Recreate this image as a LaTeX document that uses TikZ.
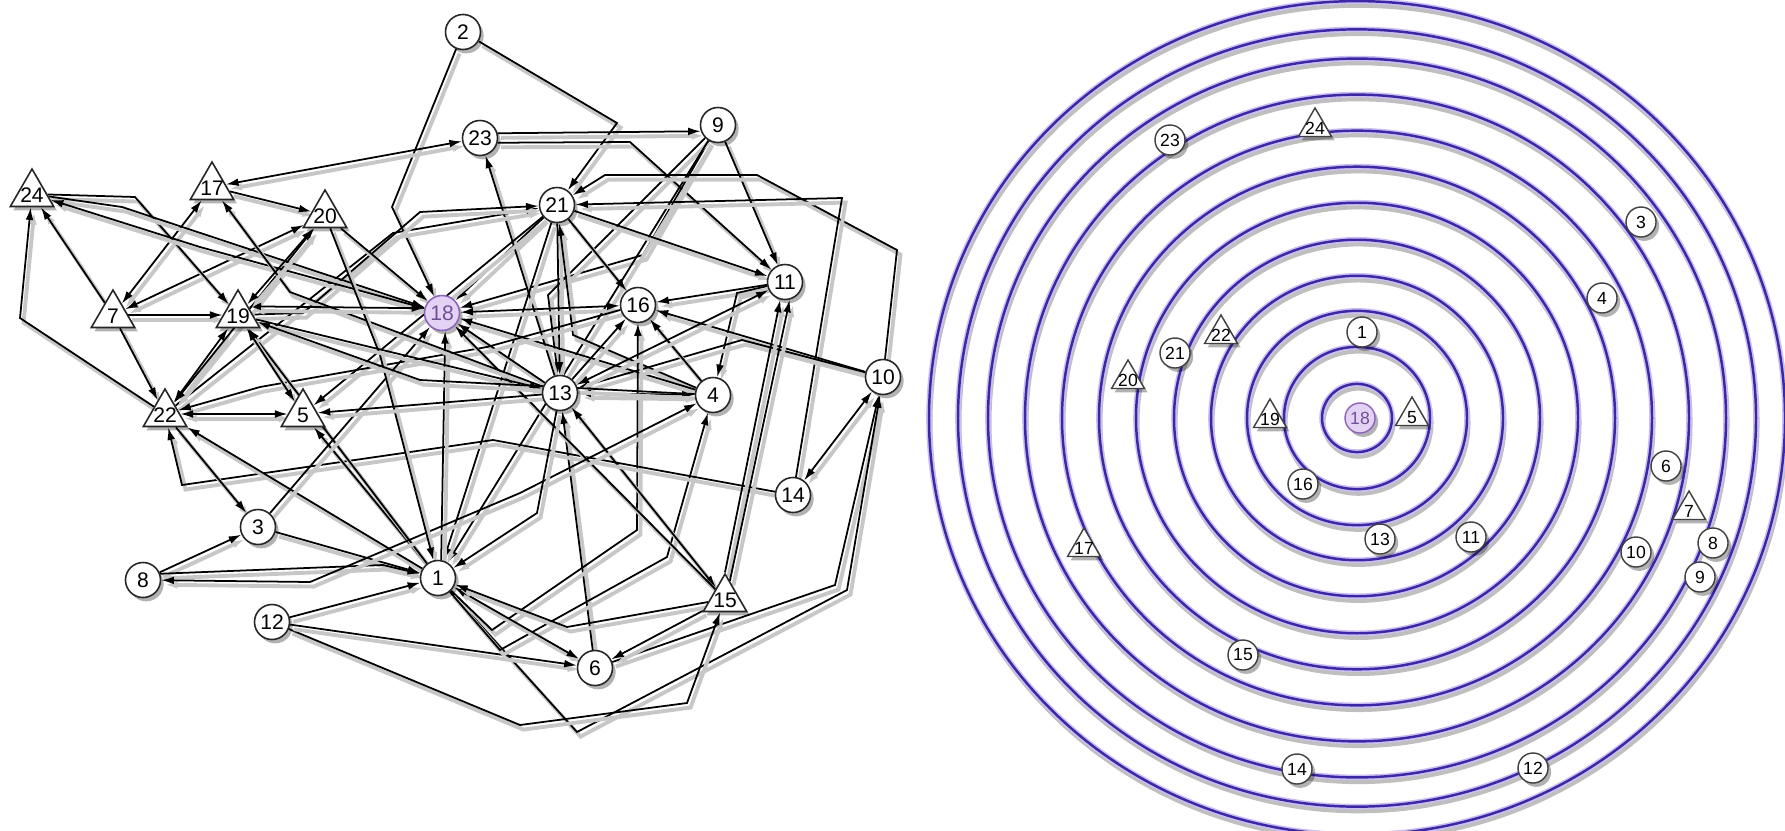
\documentclass[tikz,border=0pt]{standalone}
\usepackage{fontspec}
\setmainfont{Liberation Sans}
\usetikzlibrary{arrows.meta,shapes.geometric,shadows}

\definecolor{ringblue}{RGB}{60,40,165}
\definecolor{ringglow}{RGB}{205,190,242}
\definecolor{hubfill}{RGB}{228,210,245}
\definecolor{hubline}{RGB}{140,100,185}

\pgfdeclarelayer{edges}
\pgfsetlayers{edges,main}

\tikzset{
	nshadow/.style={drop shadow={shadow xshift=0.9pt, shadow yshift=-1.1pt, opacity=0.3, fill=black}},
	cnode/.style={circle, draw=black!85, fill=white, line width=0.45pt, minimum size=0.35cm, inner sep=0pt, font=\fontsize{6}{7}\selectfont, nshadow},
	tnode/.style={regular polygon, regular polygon sides=3, draw=black!85, fill=white, line width=0.45pt, minimum size=0.5cm, inner sep=0pt, nshadow,
		label={[font=\fontsize{6}{7}\selectfont, inner sep=0pt, yshift=-0.4pt]center:#1}},
	hub/.style={cnode, fill=hubfill, draw=hubline, text=hubline!80!black},
	rcnode/.style={circle, draw=black!75, fill=white, line width=0.4pt, minimum size=0.3cm, inner sep=0pt, font=\fontsize{5}{6}\selectfont, nshadow},
	rtnode/.style={regular polygon, regular polygon sides=3, draw=black!75, fill=white, line width=0.4pt, minimum size=0.38cm, inner sep=0pt, nshadow,
		label={[font=\fontsize{5}{6}\selectfont, inner sep=0pt, yshift=-0.3pt]center:#1}},
	rhub/.style={rcnode, fill=hubfill, draw=hubline, text=hubline!80!black},
	link/.style={line width=0.5pt, ->, preaction={draw=black!22, line width=1.1pt, transform canvas={shift={(1pt,-1.3pt)}}}},
	blink/.style={link, <->},
	ring/.style={draw=ringblue, line width=0.7pt,
		preaction={draw=black!25, line width=1.2pt, transform canvas={shift={(0.4pt,-1.3pt)}}},
		preaction={draw=ringglow, line width=1.6pt}}
}

\begin{document}
\begin{tikzpicture}[x=0.01cm, y=-0.01cm, >={Latex[length=3.6pt,width=2.2pt]}]

	\useasboundingbox (0,0) rectangle (1785,830);

	% Graph nodes
	\node[cnode] (n2) at (463,32) {2};
	\node[cnode] (n23) at (480,138) {23};
	\node[cnode] (n9) at (718,125) {9};
	\node[tnode=17] (n17) at (212,187) {};
	\node[tnode=24] (n24) at (32,194) {};
	\node[tnode=20] (n20) at (325,215) {};
	\node[cnode] (n21) at (557,205) {21};
	\node[cnode] (n11) at (785,282) {11};
	\node[tnode=7] (n7) at (113,315) {};
	\node[tnode=19] (n19) at (238,315) {};
	\node[hub] (n18) at (442,313) {18};
	\node[cnode] (n16) at (638,305) {16};
	\node[cnode] (n10) at (883,377) {10};
	\node[cnode] (n13) at (560,393) {13};
	\node[cnode] (n4) at (713,395) {4};
	\node[tnode=22] (n22) at (165,414) {};
	\node[tnode=5] (n5) at (303,414) {};
	\node[cnode] (n14) at (793,495) {14};
	\node[cnode] (n3) at (258,527) {3};
	\node[cnode] (n8) at (143,580) {8};
	\node[cnode] (n1) at (438,578) {1};
	\node[cnode] (n12) at (272,622) {12};
	\node[tnode=15] (n15) at (725,599) {};
	\node[cnode] (n6) at (595,668) {6};

	% Graph links
	\begin{pgfonlayer}{edges}
	\draw[link] (n2) -- (617,123) -- (n21);
	\draw[link] (n2) -- (392,207) -- (n18);
	\draw[link] (n23.15) -- (n9.200);
	\draw[link] (n23.345) -- (630,142) -- (n11);
	\draw[blink] (n17) -- (n23);
	\draw[link] (n9) -- (n11);
	\draw[link] (n9) -- (643,255) -- (n18);
	\draw[link] (n9) -- (548,295) -- (n13);
	\draw[link] (n9) -- (n1);
	\draw[link] (n10) -- (897,250) -- (757,175) -- (605,175) -- (n21);
	\draw[link] (n14) -- (842,198) -- (n21);
	\draw[link] (n21) -- (n16);
	\draw[link] (n21) -- (n11);
	\draw[link] (n21) -- (n18);
	\draw[link] (n21) -- (n13);
	\draw[link] (n13) -- (n23);
	\draw[link] (n4) -- (573,335) -- (n21);
	\draw[link] (n21) -- (n1);
	\draw[link] (n21) -- (n5);
	\draw[link] (n22) -- (393,233) -- (n21);
	\draw[link] (n19) -- (303,313) -- (420,212) -- (n21);
	\draw[link] (n11) -- (n16);
	\draw[link] (n11) -- (737,293) -- (n4);
	\draw[blink] (n16) -- (n18);
	\draw[link] (n13) -- (n18);
	\draw[link] (n4) -- (n18);
	\draw[link] (n10) -- (n16);
	\draw[link] (n10) -- (742,340) -- (n13);
	\draw[blink] (n14) -- (n10);
	\draw[link] (n6) -- (835,585) -- (n10);
	\draw[link] (n1) -- (577,732) -- (847,590) -- (n10);
	\draw[link] (n12) -- (520,725) -- (687,703) -- (n15);
	\draw[link] (n12) -- (n6);
	\draw[link] (n12) -- (n1);
	\draw[link] (n15) -- (n6);
	\draw[link] (n6) -- (n13);
	\draw[link] (n1) -- (492,630) -- (637,530) -- (n16);
	\draw[link] (n1) -- (500,650) -- (667,557) -- (n4);
	\draw[blink] (n1) -- (n6);
	\draw[link] (n15) -- (567,627) -- (n1);
	\draw[blink] (n13) -- (n15);
	\draw[blink] (n13) -- (n4);
	\draw[link] (n13) -- (n16);
	\draw[link] (n4) -- (n16);
	\draw[blink] (n13) -- (n11);
	\draw[link] (n14) -- (493,440) -- (182,485) -- (n22);
	\draw[link] (n16) -- (487,347) -- (260,387) -- (n22);
	\draw[link] (n15.north) -- (n11.255);
	\draw[link] (n15.75) -- (n11.285);
	\draw[link] (n1.80) -- (n18.280);
	\draw[link] (n15) -- (n18);
	\draw[link] (n1) -- (n22);
	\draw[link] (n1) -- (n5);
	\draw[link] (n1) -- (n19);
	\draw[link] (n3) -- (n1);
	\draw[link] (n3) -- (n18);
	\draw[link] (n8) -- (n3);
	\draw[link] (n8.20) -- (383,565) -- (n1);
	\draw[blink] (n8) -- (310,582) -- (520,493) -- (n4);
	\draw[link] (n22) -- (n3);
	\draw[blink] (n22) -- (n5);
	\draw[blink] (n22) -- (n19);
	\draw[blink] (n22) -- (n20);
	\draw[link] (n7) -- (n22);
	\draw[link] (n7) -- (n19);
	\draw[link] (n7) -- (n24);
	\draw[blink] (n7) -- (n17);
	\draw[blink] (n7) -- (n20);
	\draw[link] (n22) -- (20,318) -- (n24);
	\draw[link] (n24) -- (135,197) -- (n19);
	\draw[link] (n24) -- (122,207) -- (n18);
	\draw[link] (n18) -- (200,247) -- (n24);
	\draw[link] (n17) -- (n20);
	\draw[link] (n13) -- (290,292) -- (n17);
	\draw[link] (n20) -- (n18);
	\draw[link] (n20) -- (380,355) -- (n1);
	\draw[blink] (n19.40) -- (n18.165);
	\draw[blink] (n19) -- (n20);
	\draw[blink] (n19) -- (n5);
	\draw[link] (n19) -- (n13);
	\draw[link] (n13) -- (n5);
	\draw[link] (n4) -- (420,380) -- (n19);
	\draw[link] (n13) -- (537,513) -- (n1);
	\end{pgfonlayer}

	% Rings
	\coordinate (rc) at (1357,418);
	\foreach \r in {35,73,110,146,183,221,258,295,332,369,399,428}
		\draw[ring] (rc) ellipse [x radius=\r*0.01cm, y radius=\r*0.974cm*0.01];

	% Ring nodes
	\node[rcnode] (r23) at (1170,140) {23};
	\node[rtnode=24] (r24) at (1315,127) {};
	\node[rcnode] (r3) at (1641,222) {3};
	\node[rcnode] (r4) at (1602,298) {4};
	\node[rcnode] (r1) at (1362,332) {1};
	\node[rtnode=22] (r22) at (1221,334) {};
	\node[rcnode] (r21) at (1175,353) {21};
	\node[rtnode=20] (r20) at (1128,379) {};
	\node[rtnode=19] (r19) at (1270,418) {};
	\node[rhub] (r18) at (1360,418) {18};
	\node[rtnode=5] (r5) at (1412,416) {};
	\node[rcnode] (r6) at (1666,466) {6};
	\node[rcnode] (r16) at (1303,484) {16};
	\node[rtnode=7] (r7) at (1689,510) {};
	\node[rcnode] (r13) at (1380,539) {13};
	\node[rcnode] (r11) at (1471,537) {11};
	\node[rtnode=17] (r17) at (1084,547) {};
	\node[rcnode] (r10) at (1636,552) {10};
	\node[rcnode] (r8) at (1713,543) {8};
	\node[rcnode] (r9) at (1700,577) {9};
	\node[rcnode] (r15) at (1243,655) {15};
	\node[rcnode] (r14) at (1297,769) {14};
	\node[rcnode] (r12) at (1533,768) {12};

\end{tikzpicture}
\end{document}
